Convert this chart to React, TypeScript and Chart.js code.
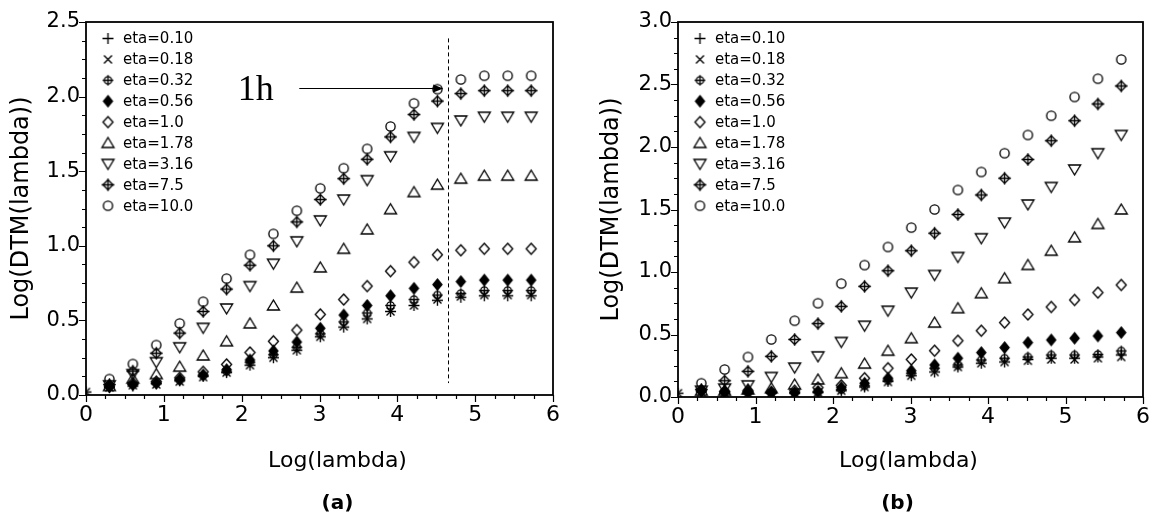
import React, { useEffect, useRef } from 'react';
import { Chart, registerables } from 'chart.js';

Chart.register(...registerables);

// ---------------- DATA ----------------
const LOG_LAMBDA = [0, 0.301, 0.602, 0.903, 1.204, 1.505, 1.806, 2.107, 2.408, 2.709, 3.01, 3.311, 3.612, 3.913, 4.214, 4.515, 4.816, 5.117, 5.418, 5.719];
const ETA_LABELS = ['eta=0.10', 'eta=0.18', 'eta=0.32', 'eta=0.56', 'eta=1.0', 'eta=1.78', 'eta=3.16', 'eta=7.5', 'eta=10.0'];
const X_TICKS = [0, 1, 2, 3, 4, 5, 6];
const Y_TICKS_A = [0, 0.5, 1.0, 1.5, 2.0, 2.5];
const Y_TICKS_B = [0, 0.5, 1.0, 1.5, 2.0, 2.5, 3.0];
const X_TITLE = 'Log(lambda)';
const Y_TITLE = 'Log(DTM(lambda))';

// Panel (a)
const A_ETA_0_10 = [0.02, 0.05, 0.06, 0.075, 0.095, 0.125, 0.15, 0.2, 0.25, 0.3, 0.39, 0.455, 0.51, 0.56, 0.6, 0.635, 0.655, 0.665, 0.665, 0.665];
const A_ETA_0_18 = [0.02, 0.05, 0.065, 0.07, 0.09, 0.12, 0.15, 0.2, 0.25, 0.3, 0.39, 0.46, 0.51, 0.56, 0.6, 0.64, 0.66, 0.67, 0.67, 0.67];
const A_ETA_0_32 = [null, 0.06, 0.07, 0.08, 0.1, 0.13, 0.16, 0.22, 0.27, 0.32, 0.41, 0.49, 0.55, 0.6, 0.64, 0.67, 0.68, 0.7, 0.7, 0.7];
const A_ETA_0_56 = [null, 0.055, 0.07, 0.08, 0.105, 0.135, 0.17, 0.235, 0.295, 0.355, 0.447, 0.536, 0.6, 0.665, 0.715, 0.74, 0.76, 0.77, 0.77, 0.77];
const A_ETA_1_0 = [null, 0.06, 0.08, 0.09, 0.115, 0.155, 0.205, 0.285, 0.36, 0.435, 0.54, 0.64, 0.73, 0.83, 0.89, 0.94, 0.97, 0.98, 0.98, 0.98];
const A_ETA_1_78 = [null, 0.06, 0.11, 0.14, 0.19, 0.265, 0.36, 0.48, 0.6, 0.72, 0.855, 0.98, 1.11, 1.245, 1.36, 1.41, 1.45, 1.47, 1.47, 1.47];
const A_ETA_3_16 = [null, 0.065, 0.14, 0.22, 0.32, 0.45, 0.58, 0.73, 0.88, 1.03, 1.17, 1.31, 1.44, 1.6, 1.73, 1.79, 1.84, 1.865, 1.865, 1.865];
const A_ETA_7_5 = [null, 0.07, 0.16, 0.28, 0.415, 0.56, 0.71, 0.87, 1.0, 1.16, 1.31, 1.45, 1.58, 1.73, 1.88, 1.97, 2.02, 2.04, 2.04, 2.04];
const A_ETA_10_0 = [null, 0.107, 0.208, 0.335, 0.48, 0.625, 0.78, 0.94, 1.08, 1.235, 1.385, 1.52, 1.65, 1.8, 1.955, 2.05, 2.115, 2.14, 2.14, 2.14];

// Panel (b)
const B_ETA_0_10 = [0.03, 0.04, 0.03, 0.03, 0.03, 0.03, 0.035, 0.05, 0.08, 0.125, 0.17, 0.2, 0.24, 0.27, 0.28, 0.3, 0.31, 0.31, 0.32, 0.336];
const B_ETA_0_18 = [0.03, 0.04, 0.03, 0.03, 0.03, 0.03, 0.035, 0.05, 0.08, 0.12, 0.17, 0.2, 0.24, 0.27, 0.28, 0.29, 0.3, 0.3, 0.31, 0.32];
const B_ETA_0_32 = [null, 0.05, 0.04, 0.04, 0.035, 0.035, 0.04, 0.06, 0.09, 0.135, 0.19, 0.23, 0.256, 0.296, 0.31, 0.32, 0.336, 0.336, 0.34, 0.368];
const B_ETA_0_56 = [null, 0.05, 0.04, 0.04, 0.035, 0.035, 0.045, 0.075, 0.11, 0.15, 0.21, 0.256, 0.31, 0.355, 0.395, 0.435, 0.456, 0.47, 0.488, 0.515];
const B_ETA_1_0 = [null, 0.05, 0.045, 0.05, 0.04, 0.05, 0.075, 0.093, 0.15, 0.23, 0.3, 0.37, 0.45, 0.53, 0.595, 0.66, 0.72, 0.776, 0.835, 0.896];
const B_ETA_1_78 = [null, 0.05, 0.05, 0.06, 0.07, 0.1, 0.14, 0.19, 0.267, 0.37, 0.47, 0.595, 0.71, 0.83, 0.95, 1.056, 1.17, 1.277, 1.384, 1.5];
const B_ETA_3_16 = [null, 0.05, 0.067, 0.093, 0.16, 0.235, 0.325, 0.44, 0.57, 0.69, 0.835, 0.976, 1.12, 1.27, 1.395, 1.54, 1.68, 1.82, 1.95, 2.096];
const B_ETA_7_5 = [null, 0.06, 0.13, 0.205, 0.325, 0.46, 0.587, 0.725, 0.885, 1.01, 1.17, 1.31, 1.46, 1.616, 1.75, 1.9, 2.05, 2.21, 2.344, 2.488];
const B_ETA_10_0 = [null, 0.11, 0.22, 0.32, 0.46, 0.61, 0.75, 0.907, 1.055, 1.2, 1.355, 1.5, 1.656, 1.8, 1.95, 2.096, 2.25, 2.4, 2.546, 2.7];

// annotation (panel a): dashed cut-off line and arrow labelled "1h"
const A_CUT_X = 4.65;
const A_CUT_Y = [0.08, 2.39];
const A_ARROW_X = [2.74, 4.59];
const A_ARROW_Y = 2.06;
const A_NOTE_TEXT = '1h';
const A_NOTE_POS = [1.95, 1.98];

const SERIES_A = [A_ETA_0_10, A_ETA_0_18, A_ETA_0_32, A_ETA_0_56, A_ETA_1_0, A_ETA_1_78, A_ETA_3_16, A_ETA_7_5, A_ETA_10_0];
const SERIES_B = [B_ETA_0_10, B_ETA_0_18, B_ETA_0_32, B_ETA_0_56, B_ETA_1_0, B_ETA_1_78, B_ETA_3_16, B_ETA_7_5, B_ETA_10_0];

// ---------------- MARKERS ----------------
function mk(draw: (ctx: CanvasRenderingContext2D, c: number) => void): HTMLCanvasElement {
  const cv = document.createElement('canvas');
  cv.width = 17;
  cv.height = 17;
  const ctx = cv.getContext('2d') as CanvasRenderingContext2D;
  ctx.strokeStyle = '#000';
  ctx.fillStyle = '#000';
  ctx.lineWidth = 1.35;
  draw(ctx, 8.5);
  return cv;
}

let MARKERS: HTMLCanvasElement[] | null = null;
function getMarkers(): HTMLCanvasElement[] {
  if (MARKERS) return MARKERS;
  const plus = (ctx: CanvasRenderingContext2D, c: number, r: number) => {
    ctx.beginPath();
    ctx.moveTo(c - r, c); ctx.lineTo(c + r, c);
    ctx.moveTo(c, c - r); ctx.lineTo(c, c + r);
    ctx.stroke();
  };
  const diamond = (ctx: CanvasRenderingContext2D, c: number, w: number, h: number) => {
    ctx.beginPath();
    ctx.moveTo(c, c - h); ctx.lineTo(c + w, c); ctx.lineTo(c, c + h); ctx.lineTo(c - w, c);
    ctx.closePath();
  };
  MARKERS = [
    mk((ctx, c) => plus(ctx, c, 5.5)),
    mk((ctx, c) => {
      ctx.beginPath();
      ctx.moveTo(c - 4, c - 4); ctx.lineTo(c + 4, c + 4);
      ctx.moveTo(c - 4, c + 4); ctx.lineTo(c + 4, c - 4);
      ctx.stroke();
    }),
    mk((ctx, c) => {
      ctx.beginPath(); ctx.arc(c, c, 3.7, 0, Math.PI * 2); ctx.stroke();
      plus(ctx, c, 5.3);
    }),
    mk((ctx, c) => { diamond(ctx, c, 4.5, 5.5); ctx.fill(); ctx.stroke(); }),
    mk((ctx, c) => { diamond(ctx, c, 5, 5.5); ctx.stroke(); }),
    mk((ctx, c) => {
      ctx.beginPath();
      ctx.moveTo(c, c - 5.5); ctx.lineTo(c + 6, c + 4.5); ctx.lineTo(c - 6, c + 4.5);
      ctx.closePath(); ctx.stroke();
    }),
    mk((ctx, c) => {
      ctx.beginPath();
      ctx.moveTo(c, c + 5.5); ctx.lineTo(c + 6, c - 4.5); ctx.lineTo(c - 6, c - 4.5);
      ctx.closePath(); ctx.stroke();
    }),
    mk((ctx, c) => { diamond(ctx, c, 5, 5); ctx.stroke(); plus(ctx, c, 6.3); }),
    mk((ctx, c) => { ctx.beginPath(); ctx.arc(c, c, 4.6, 0, Math.PI * 2); ctx.stroke(); }),
  ];
  return MARKERS;
}

// ---------------- PLUGIN ----------------
const decoPlugin = {
  id: 'deco',
  afterDatasetsDraw(chart: any, _args: any, opts: any) {
    const { ctx, chartArea: ca } = chart;
    const xs = chart.scales.x;
    const ys = chart.scales.y;
    ctx.save();
    ctx.strokeStyle = '#000';
    ctx.fillStyle = '#000';

    // annotation
    if (opts.note) {
      const n = opts.note;
      const cx = xs.getPixelForValue(n.cutX);
      ctx.lineWidth = 1;
      ctx.setLineDash([4, 3]);
      ctx.beginPath();
      ctx.moveTo(Math.round(cx) + 0.5, ys.getPixelForValue(n.cutY[1]));
      ctx.lineTo(Math.round(cx) + 0.5, ys.getPixelForValue(n.cutY[0]));
      ctx.stroke();
      ctx.setLineDash([]);
      const ay = Math.round(ys.getPixelForValue(n.arrowY)) + 0.5;
      const ax0 = xs.getPixelForValue(n.arrowX[0]);
      const ax1 = xs.getPixelForValue(n.arrowX[1]);
      ctx.lineWidth = 1.2;
      ctx.beginPath();
      ctx.moveTo(ax0, ay);
      ctx.lineTo(ax1 - 8, ay);
      ctx.stroke();
      ctx.beginPath();
      ctx.moveTo(ax1, ay);
      ctx.lineTo(ax1 - 10, ay - 4);
      ctx.lineTo(ax1 - 10, ay + 4);
      ctx.closePath();
      ctx.fill();
      ctx.font = '36px "Liberation Serif"';
      ctx.textAlign = 'left';
      ctx.textBaseline = 'alphabetic';
      ctx.fillText(n.text, xs.getPixelForValue(n.pos[0]), ys.getPixelForValue(n.pos[1]));
    }

    // frame
    ctx.lineWidth = 1.8;
    ctx.strokeRect(ca.left, ca.top, ca.right - ca.left, ca.bottom - ca.top);

    // ticks
    ctx.lineWidth = 1.2;
    ctx.beginPath();
    for (let i = 0; i <= 24; i++) {
      const px = Math.round(xs.getPixelForValue(i * 0.25)) + 0.5;
      const len = i % 4 === 0 ? 7 : 4;
      ctx.moveTo(px, ca.bottom);
      ctx.lineTo(px, ca.bottom + len);
    }
    const nY = Math.round(opts.yMax / 0.125);
    for (let i = 0; i <= nY; i++) {
      const py = Math.round(ys.getPixelForValue(i * 0.125)) + 0.5;
      const len = i % 4 === 0 ? 7 : 4;
      ctx.moveTo(ca.left, py);
      ctx.lineTo(ca.left - len, py);
    }
    ctx.stroke();

    // legend
    const markers = getMarkers();
    ctx.font = '15px "DejaVu Sans"';
    ctx.textAlign = 'left';
    ctx.textBaseline = 'middle';
    chart.data.datasets.forEach((ds: any, i: number) => {
      const y = ca.top + 16.5 + i * 20.9;
      const m = markers[i];
      ctx.drawImage(m, ca.left + 22 - m.width / 2, y - m.height / 2);
      ctx.fillText(ds.label, ca.left + 37, y + 1);
    });

    // x title and panel label
    const midX = (ca.left + ca.right) / 2;
    ctx.font = '22px "DejaVu Sans"';
    ctx.textAlign = 'center';
    ctx.textBaseline = 'middle';
    ctx.fillText(opts.xTitle, midX + opts.xTitleDx, 461);
    ctx.font = 'bold 20px "DejaVu Sans"';
    ctx.fillText(opts.panel, midX + opts.panelDx, 504);
    ctx.restore();
  },
};

// ---------------- PANEL ----------------
type PanelProps = {
  series: (number | null)[][];
  yMax: number;
  yTicks: number[];
  left: number;
  width: number;
  axisWidth: number;
  axisHeight: number;
  padRight: number;
  panel: string;
  xTitleDx: number;
  panelDx: number;
  note?: any;
};

function Panel(p: PanelProps) {
  const ref = useRef<HTMLCanvasElement | null>(null);
  useEffect(() => {
    if (!ref.current) return;
    const markers = getMarkers();
    const datasets = p.series.map((vals, i) => ({
      label: ETA_LABELS[i],
      data: LOG_LAMBDA.map((x, j) => (vals[j] == null ? null : { x, y: vals[j] })).filter((d) => d !== null),
      pointStyle: markers[i],
      pointRadius: 6,
      pointHoverRadius: 6,
      showLine: false,
    }));
    const chart = new Chart(ref.current, {
      type: 'scatter',
      data: { datasets: datasets as any },
      plugins: [decoPlugin as any],
      options: {
        animation: false,
        responsive: false,
        devicePixelRatio: 1,
        events: [],
        layout: { padding: { left: 0, top: 22, right: p.padRight, bottom: 0 } },
        scales: {
          x: {
            type: 'linear',
            min: 0,
            max: 6,
            afterBuildTicks: (s: any) => { s.ticks = X_TICKS.map((v) => ({ value: v })); },
            ticks: { color: '#000', padding: 7, font: { family: 'DejaVu Sans', size: 22 }, callback: (v: any) => String(v) },
            grid: { display: false, drawTicks: false },
            border: { display: false },
            afterFit: (s: any) => { s.height = p.axisHeight; },
          },
          y: {
            type: 'linear',
            min: 0,
            max: p.yMax,
            afterBuildTicks: (s: any) => { s.ticks = p.yTicks.map((v) => ({ value: v })); },
            ticks: { color: '#000', padding: 6, font: { family: 'DejaVu Sans', size: 21 }, callback: (v: any) => Number(v).toFixed(1) },
            grid: { display: false, drawTicks: false },
            border: { display: false },
            title: {
              display: true,
              text: Y_TITLE,
              color: '#000',
              font: { family: 'DejaVu Sans', size: 24 },
              padding: { top: 7, bottom: 0 },
            },
            afterFit: (s: any) => { s.width = p.axisWidth; },
          },
        },
        plugins: {
          legend: { display: false },
          tooltip: { enabled: false },
          deco: {
            yMax: p.yMax,
            xTitle: X_TITLE,
            xTitleDx: p.xTitleDx,
            panel: p.panel,
            panelDx: p.panelDx,
            note: p.note,
          },
        } as any,
      },
    });
    return () => chart.destroy();
  }, []);
  return (
    <canvas
      ref={ref}
      width={p.width}
      height={521}
      style={{ position: 'absolute', left: p.left, top: 0, width: p.width, height: 521 }}
    />
  );
}

export default function App() {
  return (
    <div style={{ position: 'absolute', left: 0, top: 0, width: 1157, height: 521, background: '#fff', overflow: 'hidden' }}>
      <Panel
        series={SERIES_A}
        yMax={2.5}
        yTicks={Y_TICKS_A}
        left={0}
        width={590}
        axisWidth={86}
        axisHeight={126}
        padRight={37}
        panel="(a)"
        xTitleDx={18}
        panelDx={18}
        note={{ cutX: A_CUT_X, cutY: A_CUT_Y, arrowX: A_ARROW_X, arrowY: A_ARROW_Y, text: A_NOTE_TEXT, pos: A_NOTE_POS }}
      />
      <Panel
        series={SERIES_B}
        yMax={3.0}
        yTicks={Y_TICKS_B}
        left={590}
        width={567}
        axisWidth={88}
        axisHeight={124}
        padRight={12}
        panel="(b)"
        xTitleDx={-2}
        panelDx={-13}
      />
    </div>
  );
}
